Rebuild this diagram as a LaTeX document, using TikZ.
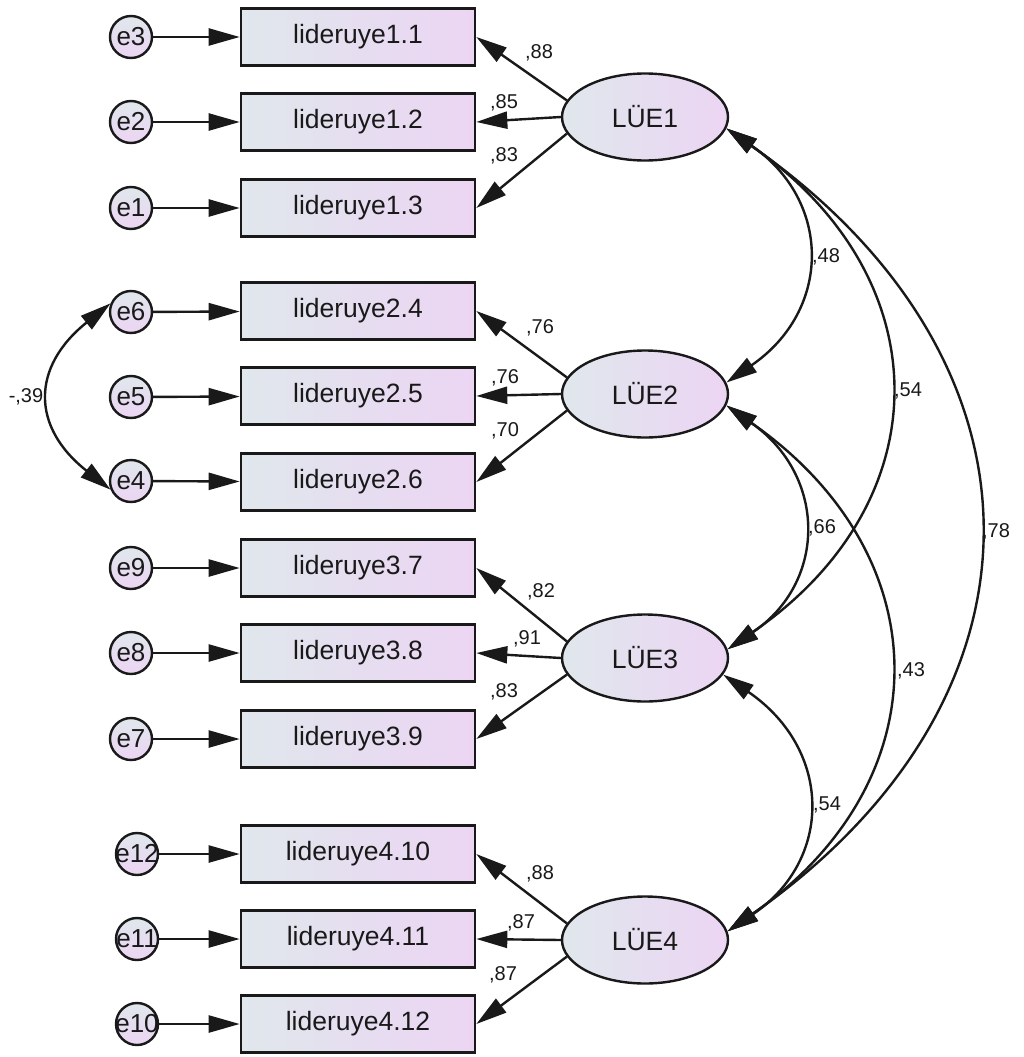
\documentclass[tikz,border=0pt]{standalone}
\usepackage{fontspec}
\setmainfont{Liberation Sans}
\usetikzlibrary{arrows.meta,shapes.geometric}
\definecolor{fillA}{RGB}{224,231,237}
\definecolor{fillB}{RGB}{236,213,243}
\definecolor{ink}{RGB}{25,25,25}

\begin{document}
\begin{tikzpicture}[x=1pt,y=-1pt,
  obs/.style={rectangle, draw=ink, line width=2.6pt, minimum width=234pt,
    minimum height=57pt, inner sep=0pt, left color=fillA, right color=fillB,
    text=ink, font=\fontsize{26.5}{30}\selectfont},
  lat/.style={ellipse, draw=ink, line width=2.4pt, minimum width=166pt,
    minimum height=87pt, inner sep=0pt, left color=fillA, right color=fillB,
    text=ink, font=\fontsize{26.5}{30}\selectfont},
  err/.style={circle, draw=ink, line width=2.4pt, minimum size=42pt,
    inner sep=0pt, top color=fillA, bottom color=fillB},
  errtext/.style={text=ink, font=\fontsize{26}{30}\selectfont, inner sep=0pt},
  coef/.style={text=ink, font=\fontsize{20}{24}\selectfont, inner sep=0pt},
  conn/.style={draw=ink, line width=2.4pt, -{Triangle[length=31pt,width=17pt]}},
  cov/.style={draw=ink, line width=2.4pt,
    {Triangle[length=31pt,width=17pt]}-{Triangle[length=31pt,width=17pt]}}]

\useasboundingbox (0,0) rectangle (1023,1057);

% observed indicators
\node[obs] (b11) at (358,37)   {lideruye1.1};
\node[obs] (b12) at (358,122)  {lideruye1.2};
\node[obs] (b13) at (358,208)  {lideruye1.3};
\node[obs] (b24) at (358,311)  {lideruye2.4};
\node[obs] (b25) at (358,396)  {lideruye2.5};
\node[obs] (b26) at (358,482)  {lideruye2.6};
\node[obs] (b37) at (358,568)  {lideruye3.7};
\node[obs] (b38) at (358,653)  {lideruye3.8};
\node[obs] (b39) at (358,739)  {lideruye3.9};
\node[obs] (b410) at (358,854) {lideruye4.10};
\node[obs] (b411) at (358,939) {lideruye4.11};
\node[obs] (b412) at (358,1024) {lideruye4.12};

% error terms
\foreach \n/\yy/\xx in {e3/37/131, e2/122/131, e1/208/131,
                        e6/312/131, e5/397/131, e4/481/131,
                        e9/568/131, e8/653/131, e7/739/131,
                        e12/854/137, e11/939/137, e10/1024/137}
  \node[err, label={[errtext]center:\n}] (\n) at (\xx,\yy) {};

% latent factors
\node[lat] (L1) at (645,117) {LÜE1};
\node[lat] (L2) at (645,394) {LÜE2};
\node[lat] (L3) at (645,658) {LÜE3};
\node[lat] (L4) at (645,940) {LÜE4};

% error paths
\foreach \e/\b in {e3/b11, e2/b12, e1/b13, e6/b24, e5/b25, e4/b26,
                   e9/b37, e8/b38, e7/b39, e12/b410, e11/b411, e10/b412}
  \draw[conn] (\e) -- (\b);

% factor loadings
\draw[conn] (L1.168) -- (b11.east);
\draw[conn] (L1.west) -- (b12.east);
\draw[conn] (L1.192) -- (b13.east);
\draw[conn] (L2.168) -- (b24.east);
\draw[conn] (L2.west) -- (b25.east);
\draw[conn] (L2.192) -- (b26.east);
\draw[conn] (L3.168) -- (b37.east);
\draw[conn] (L3.west) -- (b38.east);
\draw[conn] (L3.192) -- (b39.east);
\draw[conn] (L4.168) -- (b410.east);
\draw[conn] (L4.west) -- (b411.east);
\draw[conn] (L4.192) -- (b412.east);

\node[coef] (l11) at (539,53)  {,88};
\node[coef] (l12) at (504,103) {,85};
\node[coef] (l13) at (504,156) {,83};
\node[coef] (l24) at (540,328) {,76};
\node[coef] (l25) at (505,378) {,76};
\node[coef] (l26) at (505,431) {,70};
\node[coef] (l37) at (541,592) {,82};
\node[coef] (l38) at (527,639) {,91};
\node[coef] (l39) at (504,692) {,83};
\node[coef] (l410) at (540,874) {,88};
\node[coef] (l411) at (521,923) {,87};
\node[coef] (l412) at (503,975) {,87};

% factor covariances
\draw[cov] (L1.-8) .. controls (832,201) and (832,310) .. (L2.8);
\draw[cov] (L1.-8) .. controls (942,278) and (942,502) .. (L3.6);
\draw[cov] (L1.-8) .. controls (1061,362) and (1061,698) .. (L4.6);
\draw[cov] (L2.-8) .. controls (827,476) and (827,582) .. (L3.6);
\draw[cov] (L2.-8) .. controls (942,556) and (942,782) .. (L4.6);
\draw[cov] (L3.-12) .. controls (833,750) and (833,860) .. (L4.6);

\node[coef] (k12) at (826,257) {,48};
\node[coef] (k13) at (908,391) {,54};
\node[coef] (k14) at (996,532) {,78};
\node[coef] (k23) at (822,528) {,66};
\node[coef] (k24) at (911,671) {,43};
\node[coef] (k34) at (827,805) {,54};

% error covariance
\draw[cov] (e6.157) .. controls (31,367) and (31,427) .. (e4.203);
\node[coef] (k64) at (26,397) {-,39};

\end{tikzpicture}
\end{document}
